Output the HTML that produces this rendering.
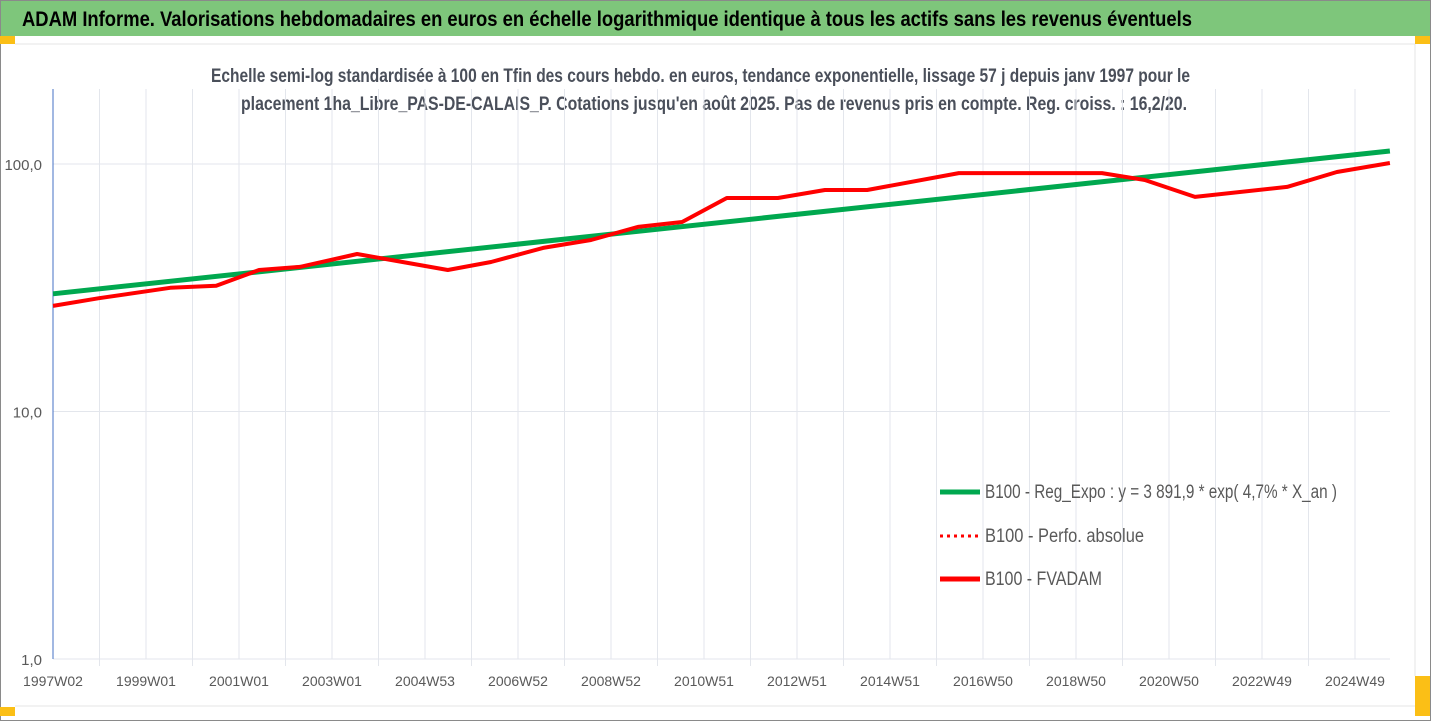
<!DOCTYPE html>
<html><head><meta charset="utf-8"><style>
html,body{margin:0;padding:0;background:#fff;}
svg{display:block;font-family:"Liberation Sans",sans-serif;}
</style></head><body>
<svg id="chart" width="1431" height="721" viewBox="0 0 1431 721" xmlns="http://www.w3.org/2000/svg">
<rect x="0.5" y="0.5" width="1430" height="720" fill="#fff" stroke="#8a8a8a"/>
<rect x="1" y="1" width="1429" height="35" fill="#7ec67b"/>
<text x="22" y="26" font-size="21" font-weight="bold" fill="#000" textLength="1170" lengthAdjust="spacingAndGlyphs">ADAM Informe. Valorisations hebdomadaires en euros en échelle logarithmique identique à tous les actifs sans les revenus éventuels</text>
<rect x="0" y="36" width="15" height="8" fill="#fbbf16"/>
<rect x="1415" y="36" width="15" height="8" fill="#fbbf16"/>
<rect x="0" y="707" width="15" height="9" fill="#fbbf16"/>
<rect x="1415" y="676" width="15" height="40" fill="#fbbf16"/>
<line x1="15" y1="44" x2="1415" y2="44" stroke="#e4e4e4"/>
<line x1="15" y1="706" x2="1415" y2="706" stroke="#e4e4e4"/>
<line x1="1415" y1="44" x2="1415" y2="676" stroke="#e4e4e4"/>
<text x="211" y="82" font-size="19" font-weight="bold" fill="#4a4f5a" textLength="979" lengthAdjust="spacingAndGlyphs">Echelle semi-log standardisée à 100 en Tfin des cours hebdo. en euros, tendance exponentielle, lissage 57 j depuis janv 1997 pour le</text>
<text x="241" y="110" font-size="19" font-weight="bold" fill="#4a4f5a" textLength="946" lengthAdjust="spacingAndGlyphs">placement 1ha_Libre_PAS-DE-CALAIS_P. Cotations jusqu'en août 2025. Pas de revenus pris en compte. Reg. croiss. : 16,2/20.</text>
<g id="grid"></g>
<g id="series"></g>
<g id="legend">
<line x1="940" y1="492" x2="980" y2="492" stroke="#00a84f" stroke-width="5"/>
<text x="985" y="498" font-size="19" fill="#595959" textLength="352" lengthAdjust="spacingAndGlyphs">B100 - Reg_Expo : y = 3 891,9 * exp( 4,7% *  X_an )</text>
<line x1="940" y1="536" x2="980" y2="536" stroke="#ff0000" stroke-width="3" stroke-dasharray="3,4"/>
<text x="985" y="542" font-size="19" fill="#595959" textLength="159" lengthAdjust="spacingAndGlyphs">B100 - Perfo. absolue</text>
<line x1="940" y1="579" x2="980" y2="579" stroke="#ff0000" stroke-width="5"/>
<text x="985" y="585" font-size="19" fill="#595959" textLength="117" lengthAdjust="spacingAndGlyphs">B100 - FVADAM</text>
</g>
</svg>
<script>
const xLabels = ["1997W02","1999W01","2001W01","2003W01","2004W53","2006W52","2008W52","2010W51","2012W51","2014W51","2016W50","2018W50","2020W50","2022W49","2024W49"];
const xLabelYears = [1997,1999,2001,2003,2005,2007,2009,2011,2013,2015,2017,2019,2021,2023,2025];
const yTicks = [1,10,100];
const yTickLabels = ["1,0","10,0","100,0"];
const fvYears = [1997.0,1997.99,1999.52,2000.51,2001.43,2002.31,2003.54,2005.49,2006.42,2007.54,2008.57,2009.58,2010.53,2011.49,2012.59,2013.6,2014.51,2016.48,2017.65,2019.56,2020.48,2021.56,2023.54,2024.61,2025.75];
const fvValues = [26.7,28.7,31.6,32.2,37.3,38.4,43.3,37.3,40.2,45.8,49.3,55.7,58.3,72.9,72.9,78.5,78.5,91.9,91.9,91.9,86.2,73.6,80.8,92.8,100.9];
const regYears = [1997.0,2025.75];
const regValues = [29.9,112.9];

const NS="http://www.w3.org/2000/svg";
const X0=53, X1=1390, Y0=659, DEC=247.5;
function xs(yr){return X0+(yr-1997)*46.5;}
function ys(v){return Y0-Math.log10(v)*DEC;}
const grid=document.getElementById('grid');
const series=document.getElementById('series');
function mk(tag,attrs,parent){const e=document.createElementNS(NS,tag);for(const k in attrs)e.setAttribute(k,attrs[k]);parent.appendChild(e);return e;}
for(let yr=1997; xs(yr)<=X1; yr++){
  const l=mk('line',{x1:xs(yr),x2:xs(yr),y1:89,y2:(yr-1997)%2===0?659:666,stroke:'#e3e6ec','stroke-width':1},grid);
  
  
}
yTicks.forEach((t,i)=>{
  const l=mk('line',{x1:X0,x2:X1,y1:ys(t),y2:ys(t),stroke:'#e3e6ec','stroke-width':1},grid);
  
  
  const tx=mk('text',{x:42,y:ys(t)+6,'font-size':15,fill:'#595959','text-anchor':'end'},grid);
  tx.textContent=yTickLabels[i];
  
  
});
const ax=mk('line',{x1:X0,x2:X0,y1:89,y2:659,stroke:'#4472c4','stroke-width':1},grid);


xLabels.forEach((lab,i)=>{
  const tx=mk('text',{x:X0+(xLabelYears[i]-1997)*46.5,y:686,'font-size':14,fill:'#595959','text-anchor':'middle'},grid);
  tx.setAttribute('x',X0+i*2*46.5);
  tx.textContent=lab;
  
  
});
function pts(years,vals){return years.map((y,i)=>xs(y).toFixed(1)+','+ys(vals[i]).toFixed(1)).join(' ');}
const g=mk('polyline',{points:pts(regYears,regValues),fill:'none',stroke:'#00a84f','stroke-width':5},series);


const r=mk('polyline',{points:pts(fvYears,fvValues),fill:'none',stroke:'#ff0000','stroke-width':4,'stroke-linejoin':'round'},series);


</script>
</body></html>
